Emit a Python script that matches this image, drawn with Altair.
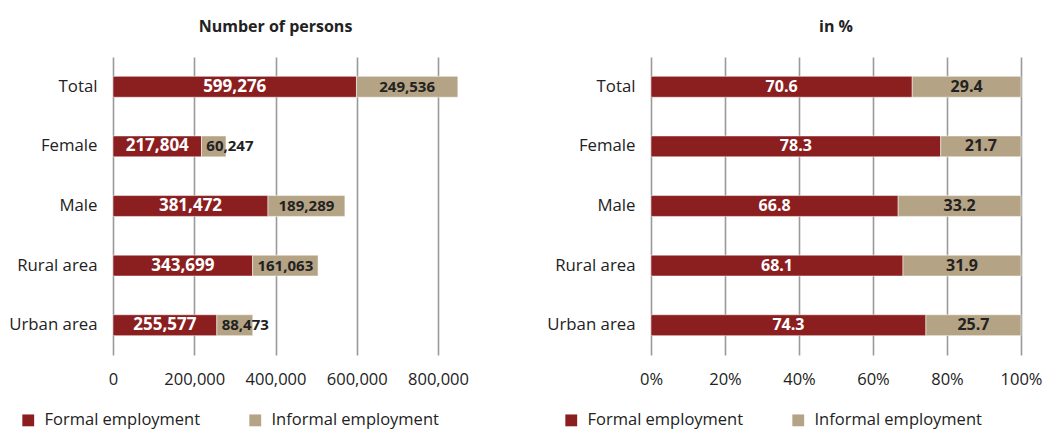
import altair as alt
import pandas as pd

# Employment by type, per group
categories = ["Total", "Female", "Male", "Rural area", "Urban area"]
series = ["Formal employment", "Informal employment"]
formal_persons = [599276, 217804, 381472, 343699, 255577]
informal_persons = [249536, 60247, 189289, 161063, 88473]
formal_share = [70.6, 78.3, 66.8, 68.1, 74.3]
informal_share = [29.4, 21.7, 33.2, 31.9, 25.7]

persons_ticks = [0, 200000, 400000, 600000, 800000]
share_ticks = [0, 20, 40, 60, 80, 100]

FONT = "Open Sans"
FORMAL = "#8B1E1F"
INFORMAL = "#B5A385"
INK = "#222222"


def stacked_table(formal, informal):
    rows = []
    for cat, f, i in zip(categories, formal, informal):
        rows.append({"category": cat, "series": series[0], "start": 0, "end": f, "value": f})
        rows.append({"category": cat, "series": series[1], "start": f, "end": f + i, "value": i})
    return pd.DataFrame(rows)


def panel(df, title, width, domain, ticks, label_expr, text_fmt, min_shift,
          formal_size, informal_size, legend_x):
    y = alt.Y(
        "category:N", sort=categories, title=None,
        scale=alt.Scale(paddingInner=0.65, paddingOuter=0.325),
        axis=alt.Axis(domain=False, ticks=False, grid=False, labelFont=FONT,
                      labelFontSize=16.8, labelColor=INK, labelPadding=16),
    )
    x_scale = alt.Scale(domain=domain, nice=False, zero=True)
    x_axis = alt.Axis(values=ticks, labelExpr=label_expr, domain=False, ticks=False,
                      grid=True, gridColor="#9a9a9a", gridWidth=1.6,
                      labelFont=FONT, labelFontSize=16.5, labelColor=INK,
                      labelPadding=16, labelOverlap=False, labelBound=False,
                      labelFlush=False, title=None)

    color = alt.Color(
        "series:N",
        scale=alt.Scale(domain=series, range=[FORMAL, INFORMAL]),
        legend=alt.Legend(title=None, orient="none", legendX=legend_x, legendY=355,
                          direction="horizontal", columns=2, symbolType="square",
                          symbolSize=140, symbolStrokeWidth=0, labelFont=FONT,
                          labelFontSize=16.5, labelColor=INK, columnPadding=46,
                          labelOffset=8, labelLimit=300),
    )

    base = alt.Chart(df)
    bars = base.mark_bar(stroke="white", strokeWidth=0.5).encode(
        x=alt.X("start:Q", scale=x_scale, axis=x_axis),
        x2="end:Q",
        y=y,
        color=color,
    )

    formal_text = base.transform_filter(
        alt.datum.series == series[0]
    ).transform_calculate(
        mid="(datum.start + datum.end) / 2",
        label=f"format(datum.value, '{text_fmt}')",
    ).mark_text(font=FONT, fontWeight="bold", fontSize=formal_size, color="white").encode(
        x=alt.X("mid:Q", scale=x_scale), y=alt.Y("category:N", sort=categories), text="label:N"
    )

    informal_text = base.transform_filter(
        alt.datum.series == series[1]
    ).transform_calculate(
        mid=f"max((datum.start + datum.end) / 2, datum.start + {min_shift})",
        label=f"format(datum.value, '{text_fmt}')",
    ).mark_text(font=FONT, fontWeight="bold", fontSize=informal_size, color=INK).encode(
        x=alt.X("mid:Q", scale=x_scale), y=alt.Y("category:N", sort=categories), text="label:N"
    )

    return alt.layer(bars, formal_text, informal_text).properties(
        width=width, height=298,
        title=alt.TitleParams(title, font=FONT, fontSize=16, fontWeight="bold",
                              color=INK, offset=22, anchor="middle", frame="group"),
    )


left = panel(stacked_table(formal_persons, informal_persons), "Number of persons",
             325, [0, 800000], persons_ticks, "format(datum.value, ',')", ",",
             70000, 17, 15, -93)
right = panel(stacked_table(formal_share, informal_share), "in %",
              370, [0, 100], share_ticks, "datum.value + '%'", ".1f",
              8, 16, 16, -88)

chart = alt.hconcat(left, right, spacing=77).resolve_scale(
    color="independent", x="independent", y="independent"
).properties(
    padding={"left": 8, "top": 19, "right": 1, "bottom": 2},
    background="white",
).configure_view(stroke=None)

chart.save("out.html", embed_options={"renderer": "svg", "actions": False})
